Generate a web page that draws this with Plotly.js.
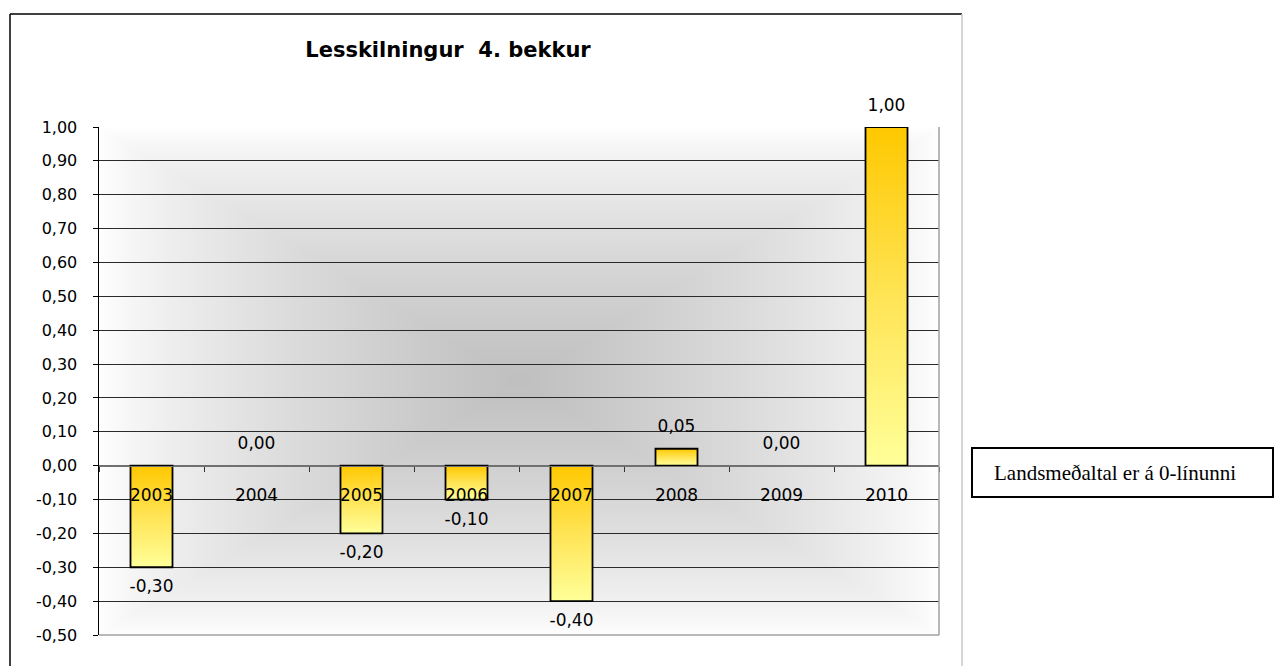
<!DOCTYPE html>
<html>
<head>
<meta charset="utf-8">
<script src="https://cdn.plot.ly/plotly-3.0.1.min.js"></script>
<style>
html,body{margin:0;padding:0;background:#fff;}
#chart{width:1274px;height:666px;}
</style>
</head>
<body>
<div id="chart"></div>
<script>
// ---- data ----
const years = ['2003','2004','2005','2006','2007','2008','2009','2010'];
const values = [-0.30, 0.00, -0.20, -0.10, -0.40, 0.05, 0.00, 1.00];
const yRange = [-0.5, 1.0];
const yStep = 0.1;
const chartTitle = 'Lesskilningur  4. bekkur';
const noteText = 'Landsmeðaltal er á 0-línunni';

// number format: comma decimal, hyphen minus
const fmt = v => v.toFixed(2).replace('.', ',');

// ---- layout geometry (pixels) ----
const W = 1274, H = 666;
const M = {l: 99, r: 335, t: 127, b: 31};
const PW = W - M.l - M.r, PH = H - M.t - M.b;
const px2x = px => (px - M.l) / PW;
const px2y = py => (M.t + PH - py) / PH;

// background gradient image (rectangular "from centre" gradient)
function makeBg() {
  const c = document.createElement('canvas');
  c.width = PW; c.height = PH;
  const ctx = c.getContext('2d');
  const img = ctx.createImageData(PW, PH);
  const hw = PW / 2, hh = PH / 2;
  for (let j = 0; j < PH; j++) {
    for (let i = 0; i < PW; i++) {
      const t = Math.max(Math.abs(i - hw) / hw, Math.abs(j - hh) / hh);
      const v = Math.round(255 - 64 * Math.pow(1 - Math.min(t, 1), 0.75));
      const k = (j * PW + i) * 4;
      img.data[k] = v; img.data[k+1] = v; img.data[k+2] = v; img.data[k+3] = 255;
    }
  }
  ctx.putImageData(img, 0, 0);
  return c.toDataURL('image/png');
}

const zeroPos = (0 - yRange[0]) / (yRange[1] - yRange[0]);
const tickVals = [];
for (let v = yRange[0]; v <= yRange[1] + 1e-9; v += yStep) tickVals.push(Math.round(v * 100) / 100);

const barTrace = {
  type: 'bar',
  x: years,
  y: values,
  marker: {color: '#FFE050', line: {color: '#000', width: values.map(v => v === 0 ? 0 : 1.8)}},
  hoverinfo: 'none'
};

const labelTrace = {
  type: 'scatter',
  mode: 'text+markers',
  x: years,
  y: values,
  text: values.map(fmt),
  textposition: values.map(v => v < 0 ? 'bottom center' : 'top center'),
  textfont: {family: 'DejaVu Sans', size: 17, color: '#000'},
  marker: {size: 18, opacity: 0},
  cliponaxis: false,
  hoverinfo: 'none'
};

const shapes = [
  // outer chart frame
  {type:'line', xref:'paper', yref:'paper', x0:px2x(10), x1:px2x(10), y0:px2y(14), y1:px2y(700), line:{color:'#000', width:1.5}},
  {type:'line', xref:'paper', yref:'paper', x0:px2x(10), x1:px2x(962), y0:px2y(14), y1:px2y(14), line:{color:'#000', width:1.5}},
  {type:'line', xref:'paper', yref:'paper', x0:px2x(962), x1:px2x(962), y0:px2y(14), y1:px2y(700), line:{color:'#c8c8c8', width:1.5}},
  // plot area right / bottom border
  {type:'line', xref:'paper', yref:'paper', x0:1, x1:1, y0:0, y1:1, line:{color:'#a0a0a0', width:1.5}},
  {type:'line', xref:'paper', yref:'paper', x0:0, x1:1, y0:0, y1:0, line:{color:'#a0a0a0', width:1.5}},
  // note box
  {type:'rect', xref:'paper', yref:'paper', x0:px2x(972), x1:px2x(1273), y0:px2y(497), y1:px2y(448), line:{color:'#000', width:2}, fillcolor:'#fff'}
];

const layout = {
  width: W, height: H,
  margin: M,
  paper_bgcolor: '#fff',
  plot_bgcolor: 'rgba(0,0,0,0)',
  separators: ', ',
  showlegend: false,
  bargap: 0.6,
  title: {
    text: '<b>' + chartTitle + '</b>',
    font: {family: 'DejaVu Sans', size: 21, color: '#000'},
    x: 448 / W, xref: 'container', xanchor: 'center',
    y: 1 - 50 / H, yref: 'container', yanchor: 'middle'
  },
  xaxis: {
    type: 'category',
    range: [-0.5, years.length - 0.5],
    anchor: 'free',
    position: zeroPos,
    showline: true, linecolor: '#707070', linewidth: 1.5,
    ticks: 'outside', ticklen: 5, tickcolor: '#333', tickwidth: 1,
    tickson: 'boundaries',
    ticklabelstandoff: 13,
    showgrid: false,
    tickfont: {family: 'DejaVu Sans', size: 17, color: '#000'},
    fixedrange: true
  },
  yaxis: {
    range: yRange,
    tickmode: 'array',
    tickvals: tickVals,
    ticktext: tickVals.map(fmt),
    showline: true, linecolor: '#000', linewidth: 1.5,
    ticks: 'outside', ticklen: 5, tickcolor: '#000',
    ticklabelstandoff: 12,
    showgrid: true, gridcolor: '#2a2a2a', gridwidth: 1,
    zeroline: true, zerolinecolor: '#707070', zerolinewidth: 1.5,
    tickfont: {family: 'DejaVu Sans', size: 16, color: '#000'},
    fixedrange: true
  },
  images: [{
    source: makeBg(), xref: 'paper', yref: 'paper',
    x: 0, y: 1, sizex: 1, sizey: 1, xanchor: 'left', yanchor: 'top',
    sizing: 'stretch', layer: 'below'
  }],
  shapes: shapes,
  annotations: [{
    text: noteText, xref: 'paper', yref: 'paper',
    x: px2x(992), y: px2y(473), xanchor: 'left', yanchor: 'middle',
    showarrow: false,
    font: {family: 'Liberation Serif', size: 21, color: '#000'}
  }]
};

Plotly.newPlot('chart', [barTrace, labelTrace], layout, {displayModeBar: false, staticPlot: true}).then(gd => {
  const svg = gd.querySelector('.main-svg');
  const ns = 'http://www.w3.org/2000/svg';
  let defs = svg.querySelector('defs');
  if (!defs) { defs = document.createElementNS(ns, 'defs'); svg.insertBefore(defs, svg.firstChild); }
  const g = document.createElementNS(ns, 'linearGradient');
  g.setAttribute('id', 'barGrad');
  g.setAttribute('x1', '0'); g.setAttribute('y1', '0');
  g.setAttribute('x2', '0'); g.setAttribute('y2', '1');
  [['0', '#FFC800'], ['0.5', '#FFE455'], ['1', '#FFFF99']].forEach(([o, c]) => {
    const s = document.createElementNS(ns, 'stop');
    s.setAttribute('offset', o); s.setAttribute('stop-color', c);
    g.appendChild(s);
  });
  defs.appendChild(g);
  gd.querySelectorAll('.trace.bars .point path').forEach(p => { p.style.fill = 'url(#barGrad)'; });
});
</script>
</body>
</html>
